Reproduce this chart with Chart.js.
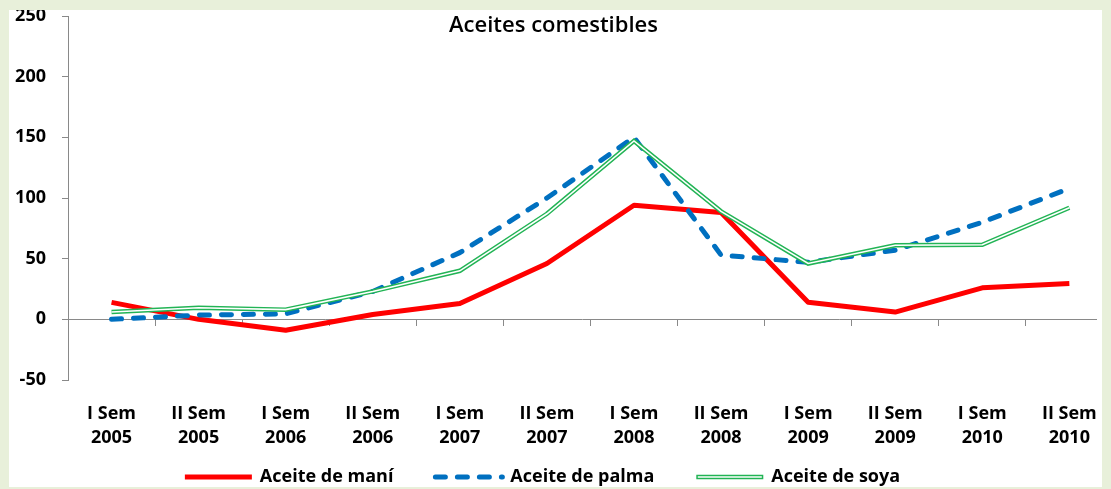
<!DOCTYPE html>
<html lang="es">
<head>
<meta charset="UTF-8">
<title>Aceites comestibles</title>
<script src="https://cdn.jsdelivr.net/npm/chart.js"></script>
<style>
body { margin: 0; background: #e8f0da; width: 1111px; height: 489px; overflow: hidden; }
#frame { position: absolute; left: 9px; top: 10px; width: 1093px; height: 477px; background: #fff; overflow: hidden; }
#myChart { position: absolute; left: -9px; top: -10px; }
</style>
</head>
<body>
<div id="frame"><canvas id="myChart" width="1111" height="489"></canvas></div>
<script>
// periods (x categories)
const periods = [
  ['I Sem', '2005'], ['II Sem', '2005'], ['I Sem', '2006'], ['II Sem', '2006'],
  ['I Sem', '2007'], ['II Sem', '2007'], ['I Sem', '2008'], ['II Sem', '2008'],
  ['I Sem', '2009'], ['II Sem', '2009'], ['I Sem', '2010'], ['II Sem', '2010']
];
// series values
const maniVals  = [14, 0, -9, 4, 13, 46, 94, 88, 14, 6, 26, 29.5];
const palmaVals = [0, 3.5, 4.5, 23, 55, 100, 150, 53, 47, 57, 80, 108];
const soyaVals  = [6, 9.5, 8, 23, 40, 87, 147, 89, 46, 61, 61.5, 92];
const yTicks = [-50, 0, 50, 100, 150, 200, 250];

const xMin = -0.5;
const xMax = 11.317; // plot is cropped on the right side
const gray = '#898989';
const fontFam = '"Open Sans"';
const tickFont = { family: fontFam, size: 18, weight: 'bold', lineHeight: 1.33 };

const toPts = arr => arr.map((v, i) => ({ x: i, y: v }));
const setTicks = s => { s.ticks = periods.map((p, i) => ({ value: i })); };

// title + legend drawn on top of the chart (Excel style overlay)
const extras = {
  id: 'extras',
  afterDraw(chart) {
    const ctx = chart.ctx;
    ctx.save();
    ctx.font = '600 22px ' + fontFam;
    ctx.fillStyle = '#000';
    ctx.textAlign = 'center';
    ctx.textBaseline = 'middle';
    ctx.fillText('Aceites comestibles', chart.width / 2 - 2, 26);

    const items = chart.data.datasets.slice(0, 3);
    const sampleW = 67, gap = 42, y = 477;
    ctx.font = 'bold 18px ' + fontFam;
    ctx.textAlign = 'left';
    const widths = items.map(d => sampleW + 8 + ctx.measureText(d.label).width);
    const total = widths.reduce((a, b) => a + b, 0) + gap * (items.length - 1);
    let x = chart.width / 2 - 13 - total / 2;
    items.forEach((d, i) => {
      ctx.save();
      ctx.strokeStyle = d.borderColor;
      ctx.lineWidth = d.borderWidth;
      ctx.setLineDash(d.borderDash || []);
      ctx.lineCap = d.borderCapStyle || 'butt';
      ctx.beginPath();
      ctx.moveTo(x, y);
      ctx.lineTo(x + sampleW, y);
      ctx.stroke();
      if (i === 2) {
        ctx.strokeStyle = '#fff';
        ctx.lineWidth = 1.6;
        ctx.beginPath();
        ctx.moveTo(x + 1.5, y);
        ctx.lineTo(x + sampleW - 1.5, y);
        ctx.stroke();
      }
      ctx.restore();
      ctx.fillText(d.label, x + sampleW + 8, y);
      x += widths[i] + gap;
    });
    ctx.restore();
  }
};

const ctx = document.getElementById('myChart').getContext('2d');
const myChart = new Chart(ctx, {
  type: 'line',
  data: {
    datasets: [{
      label: 'Aceite de maní',
      data: toPts(maniVals),
      borderColor: '#ff0000',
      borderWidth: 5,
      borderJoinStyle: 'round',
      pointRadius: 0,
      order: 3
    }, {
      label: 'Aceite de palma',
      data: toPts(palmaVals),
      borderColor: '#0070c0',
      borderWidth: 5,
      borderDash: [10, 12],
      borderCapStyle: 'round',
      borderJoinStyle: 'round',
      pointRadius: 0,
      order: 2
    }, {
      label: 'Aceite de soya',
      data: toPts(soyaVals),
      borderColor: '#22b455',
      borderWidth: 4.5,
      pointRadius: 0,
      order: 1
    }, {
      label: 'soya-inner',
      data: toPts(soyaVals),
      borderColor: '#ffffff',
      borderWidth: 1.6,
      pointRadius: 0,
      order: 0
    }]
  },
  options: {
    responsive: false,
    animation: false,
    layout: { padding: { top: 16, left: 0, right: 9, bottom: 39 } },
    scales: {
      x: {
        type: 'linear',
        position: { y: 0 },
        min: xMin,
        max: xMax,
        afterBuildTicks: setTicks,
        ticks: { display: false, autoSkip: false },
        grid: { offset: true, drawOnChartArea: false, drawTicks: true, tickLength: 6, color: gray },
        border: { display: true, color: gray, width: 1 }
      },
      x2: {
        type: 'linear',
        position: 'bottom',
        min: xMin,
        max: xMax,
        afterBuildTicks: setTicks,
        afterFit: s => { s.height = 70; },
        ticks: {
          autoSkip: false,
          maxRotation: 0,
          padding: 14,
          color: '#000',
          font: tickFont,
          callback: v => periods[v]
        },
        grid: { display: false },
        border: { display: false }
      },
      y: {
        min: -50,
        max: 250,
        afterBuildTicks: s => { s.ticks = yTicks.map(v => ({ value: v })); },
        afterFit: s => { s.width = 68; s.paddingTop = 8; s.paddingBottom = 8; },
        ticks: { padding: 16, color: '#000', font: { family: fontFam, size: 18, weight: 'bold' } },
        grid: { drawOnChartArea: false, drawTicks: true, tickLength: 6, color: gray },
        border: { display: true, color: gray, width: 1 }
      }
    },
    plugins: {
      title: { display: false },
      tooltip: { enabled: false },
      legend: { display: false }
    }
  },
  plugins: [extras]
});
</script>
</body>
</html>
